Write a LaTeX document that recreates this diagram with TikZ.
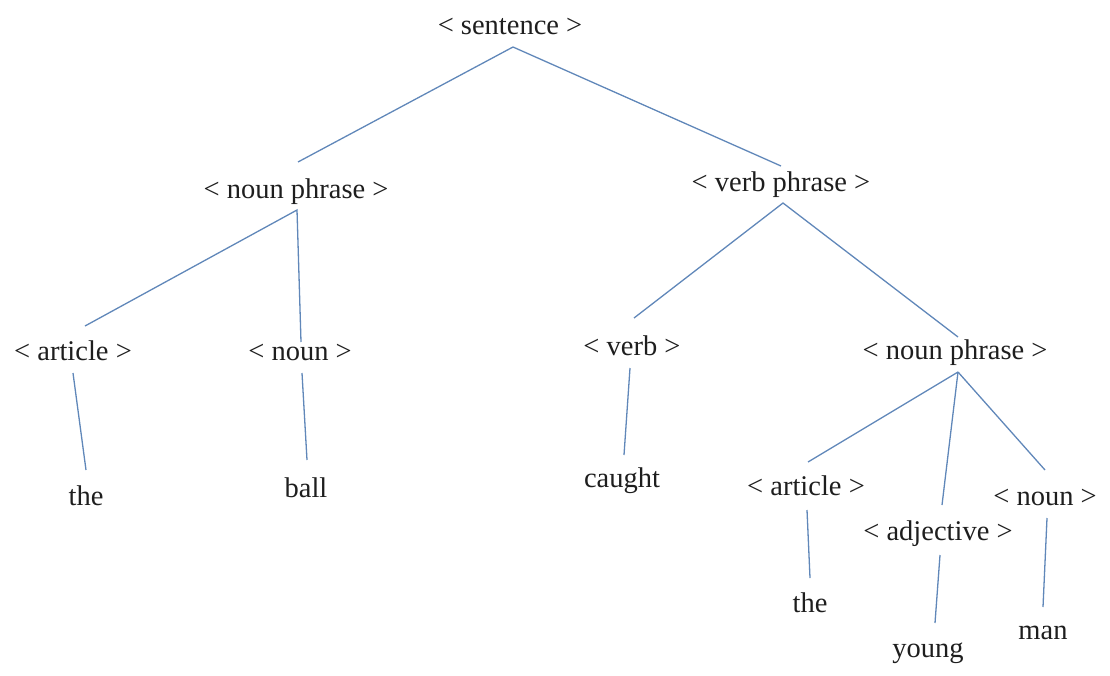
\documentclass[tikz,border=0pt]{standalone}
\usepackage{fontspec}
\setmainfont{Liberation Serif}
\begin{document}
\begin{tikzpicture}[x=1pt,y=-1pt,
  lbl/.style={anchor=base,inner sep=0pt,text=textgray,font=\fontsize{28.5}{34}\selectfont},
  edge/.style={draw=lineblue,line width=1.3pt}]
\definecolor{lineblue}{RGB}{96,135,185}
\definecolor{textgray}{RGB}{30,30,30}
\useasboundingbox (0,0) rectangle (1110,675);
% nodes
\node[lbl] (sent) at (510,34) {< sentence >};
\node[lbl] (np1) at (296,198) {< noun phrase >};
\node[lbl] (vp) at (781,191) {< verb phrase >};
\node[lbl] (art1) at (73,360) {< article >};
\node[lbl] (n1) at (300,360) {< noun >};
\node[lbl] (v) at (632,355) {< verb >};
\node[lbl] (np2) at (955,359) {< noun phrase >};
\node[lbl] (art2) at (806,495) {< article >};
\node[lbl] (adj) at (938,540) {< adjective >};
\node[lbl] (n2) at (1045,505) {< noun >};
\node[lbl] (the1) at (86,505) {the};
\node[lbl] (ball) at (306,497) {ball};
\node[lbl] (caught) at (622,487) {caught};
\node[lbl] (the2) at (810,612) {the};
\node[lbl] (young) at (928,657) {young};
\node[lbl] (man) at (1043,639) {man};
% connector end points
\coordinate (sent-b) at (513,47);
\coordinate (np1-t) at (298,162);
\coordinate (vp-t) at (781,166);
\coordinate (np1-b) at (297,210);
\coordinate (art1-t) at (85,326);
\coordinate (n1-t) at (301,342);
\coordinate (vp-b) at (783,203);
\coordinate (v-t) at (634,318);
\coordinate (np2-t) at (958,337);
\coordinate (art1-b) at (73,373);
\coordinate (the1-t) at (86,470);
\coordinate (n1-b) at (302,373);
\coordinate (ball-t) at (307,460);
\coordinate (v-b) at (630,368);
\coordinate (caught-t) at (624,455);
\coordinate (np2-b) at (958,372);
\coordinate (art2-t) at (808,462);
\coordinate (adj-t) at (942,505);
\coordinate (n2-t) at (1045,470);
\coordinate (art2-b) at (807,510);
\coordinate (the2-t) at (810,578);
\coordinate (adj-b) at (940,555);
\coordinate (young-t) at (935,623);
\coordinate (n2-b) at (1047,518);
\coordinate (man-t) at (1043,607);
% connectors
\draw[edge] (np1-t) -- (sent-b) -- (vp-t);
\draw[edge] (art1-t) -- (np1-b) -- (n1-t);
\draw[edge] (v-t) -- (vp-b) -- (np2-t);
\draw[edge] (art1-b) -- (the1-t);
\draw[edge] (n1-b) -- (ball-t);
\draw[edge] (v-b) -- (caught-t);
\draw[edge] (np2-b) -- (art2-t);
\draw[edge] (np2-b) -- (adj-t);
\draw[edge] (np2-b) -- (n2-t);
\draw[edge] (art2-b) -- (the2-t);
\draw[edge] (adj-b) -- (young-t);
\draw[edge] (n2-b) -- (man-t);
\end{tikzpicture}
\end{document}
